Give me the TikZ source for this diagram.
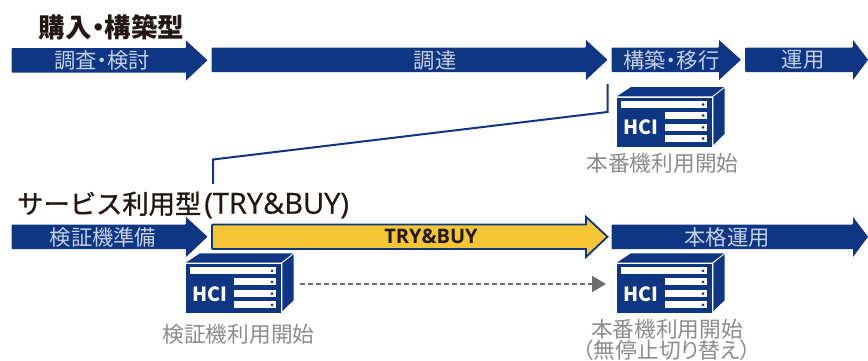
\documentclass[tikz,border=0pt]{standalone}
\usepackage{fontspec}
\newfontfamily\jp[RawFeature=+palt]{Noto Sans CJK JP}
\newfontfamily\jpfull[FakeBold=1.2]{Noto Sans CJK JP}
\newfontfamily\latinHead[FakeBold=0.6]{Open Sans}
\newfontfamily\latinBar{Open Sans}
\usetikzlibrary{arrows.meta}
\definecolor{navy}{HTML}{0F3682}
\definecolor{gold}{HTML}{F4C635}
\definecolor{ink}{HTML}{231815}
\definecolor{paleText}{HTML}{C6D0E3}
\definecolor{greyText}{HTML}{8C8C8C}
\definecolor{dashGrey}{HTML}{6E6E6E}
\tikzset{
  x=1pt,y=-1pt,
  barlabel/.style={inner sep=0,text=paleText,font=\jp\fontsize{21.3}{22}\selectfont},
  tinylabel/.style={inner sep=0,text=greyText,font=\jp\fontsize{21.7}{23}\selectfont},
  headOne/.style={inner sep=0,text=ink,font=\jp\bfseries\fontsize{26.5}{28}\selectfont},
  headTwo/.style={inner sep=0,text=ink,font=\jpfull\fontsize{26.3}{28}\selectfont},
  hcilabel/.style={inner sep=0,text=white,font=\jp\bfseries\fontsize{19.5}{20}\selectfont},
  barfill/.style={fill=navy,rounded corners=1pt},
  link/.style={draw=navy,line width=2pt},
}
% x-start, head-x, tip-x, body-top, body-bottom, head-top, head-bottom
\newcommand{\flowbar}[8][barfill]{%
  \path[#1] (#2,#5) -- (#3,#5) [sharp corners] -- (#3,#7) -- (#4,{(#5+#6)/2}) -- (#3,#8) -- (#3,#6) [rounded corners=1pt] -- (#2,#6) -- cycle;
}
% name, left, top
\newcommand{\hciserver}[3]{%
  \begin{scope}[shift={(#2,#3)}]
    \fill[navy] (0,9.3) -- (14,0) -- (107,0) -- (95,9.3) -- cycle;
    \fill[navy] (0,10.5) rectangle (95,59.5);
    \fill[navy] (96.3,10) -- (107.5,1) -- (107.5,47) -- (96.3,58) -- cycle;
    \fill[white] (4,14) rectangle (90,21);
    \fill[white] (47.5,25) rectangle (90,32);
    \fill[white] (47.5,36.7) rectangle (90,44);
    \fill[white] (47.5,48) rectangle (90,55);
    \foreach \yy in {17.5,28.5,40.3,51.5} \fill[navy] (86,\yy) circle (1.5);
    \node[hcilabel] (#1) at (24,40.5) {HCI};
  \end{scope}
}
\begin{document}
\begin{tikzpicture}
\useasboundingbox[clip] (0,0) rectangle (868,360);
\fill[white] (0,0) rectangle (868,360);

\node[headOne] (h1) at (111.5,27) {購入・構築型};
\flowbar{11.5}{186}{207.5}{48}{72.5}{40.5}{80.5}
\node[barlabel] (a1) at (102,60.5) {調査・検討};
\flowbar{211.5}{586}{607.5}{47.5}{72}{40}{80}
\node[barlabel] (a2) at (435,60) {調達};
\flowbar{611.5}{719}{741}{47.5}{72}{40}{80}
\node[barlabel] (a3) at (671.5,60) {構築・移行};
\flowbar{745}{853}{868}{47.5}{72}{40}{80}
\node[barlabel] (a4) at (803,60) {運用};

\hciserver{s1}{617}{87}
\node[tinylabel] (t1) at (662.5,163) {本番機利用開始};

\coordinate (linkTop) at (607.5,84);
\coordinate (linkKneeA) at (607.5,112);
\coordinate (linkKneeB) at (213,159.5);
\coordinate (linkEnd) at (213,184);
\draw[link] (linkTop) -- (linkKneeA) -- (linkKneeB) -- (linkEnd);

\node[headTwo,anchor=west] (h2) at (17,205) {サービス利用型\hspace{3pt}{\latinHead\fontsize{29}{30}\selectfont (TRY\&BUY)}};
\flowbar{11.5}{186}{207.5}{224.5}{249}{217}{257}
\node[barlabel] (b1) at (103,237) {検証機準備};
\flowbar[fill=gold,draw=navy,line width=1.8pt,line join=miter]{212}{586}{607.5}{224.5}{249}{216.8}{257}
\node[inner sep=0,text=ink,font=\latinBar\bfseries\fontsize{20}{22}\selectfont] (b2) at (431,236.5) {TRY\&BUY};
\flowbar{611.5}{853}{868}{224.5}{249}{217}{257}
\node[barlabel] (b3) at (727,237) {本格運用};

\hciserver{s2}{186}{253.3}
\hciserver{s3}{617}{253.3}
\node[tinylabel] (t2) at (238.5,334) {検証機利用開始};
\node[tinylabel] (t3) at (667,329) {本番機利用開始};
\node[tinylabel] (t4) at (667,350.5) {（無停止切り替え）};

\coordinate (dashStart) at (300,284);
\coordinate (dashEnd) at (606,284);
\draw[dashGrey,line width=2pt,dash pattern=on 4.5pt off 3.5pt,-{Triangle[length=14pt,width=16pt,fill=dashGrey]}] (dashStart) -- (dashEnd);
\end{tikzpicture}
\end{document}
